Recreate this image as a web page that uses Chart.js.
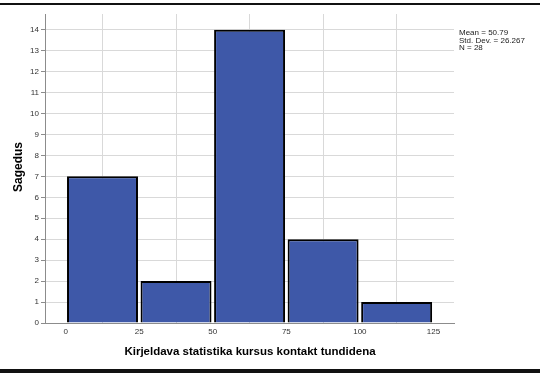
<!DOCTYPE html>
<html>
<head>
<meta charset="utf-8">
<script src="https://cdn.jsdelivr.net/npm/chart.js@4/dist/chart.umd.min.js"></script>
<style>
  html, body { margin: 0; padding: 0; background: #fff; }
  #wrap { position: relative; width: 540px; height: 373px; }
</style>
</head>
<body>
<div id="wrap"><canvas id="hist" width="540" height="373"></canvas></div>
<script>
(function () {
    'use strict';
    // histogram bins (midpoints) and counts
    var binCenters = [12.5, 37.5, 62.5, 87.5, 112.5];
    var counts = [7, 2, 14, 4, 1];
    var xTicks = [0, 25, 50, 75, 100, 125];
    var yTicks = [0, 1, 2, 3, 4, 5, 6, 7, 8, 9, 10, 11, 12, 13, 14];
    var statLines = ['Mean = 50.79', 'Std. Dev. = 26.267', 'N = 28'];
    var xTitle = 'Kirjeldava statistika kursus kontakt tundidena';
    var yTitle = 'Sagedus';

    var barBlue = '#3e58a8';
    var gridGray = '#d9d9d9';
    var axisGray = '#8c8c8c';

    var decor = {
        id: 'decor',
        afterDraw: function (chart) {
            var ctx = chart.ctx;
            var area = chart.chartArea;
            ctx.save();
            // frame lines top and bottom
            ctx.fillStyle = '#111';
            ctx.fillRect(0, 3, 540, 2);
            ctx.fillRect(0, 369, 540, 4);
            // stats box
            ctx.fillStyle = '#222';
            ctx.font = '8px "Liberation Sans", Arial, sans-serif';
            ctx.textAlign = 'left';
            ctx.textBaseline = 'middle';
            statLines.forEach(function (s, i) {
                ctx.fillText(s, area.right + 5, 33 + i * 7.3);
            });
            // axis titles
            ctx.fillStyle = '#000';
            ctx.font = 'bold 11.5px "Liberation Sans", Arial, sans-serif';
            ctx.textAlign = 'center';
            ctx.fillText(xTitle, 250, 352);
            ctx.font = 'bold 12px "Liberation Sans", Arial, sans-serif';
            ctx.translate(19, 167);
            ctx.rotate(-Math.PI / 2);
            ctx.fillText(yTitle, 0, 0);
            ctx.restore();
        }
    };

    new Chart(document.getElementById('hist'), {
        type: 'bar',
        data: {
            datasets: [
                {
                    data: binCenters.map(function (c, i) { return { x: c, y: counts[i] }; }),
                    backgroundColor: barBlue,
                    borderColor: '#000',
                    borderWidth: 2,
                    barPercentage: 1,
                    categoryPercentage: 0.965
                }
            ]
        },
        options: {
            responsive: false,
            animation: false,
            layout: { padding: { top: 14, right: 86, left: 0, bottom: 0 } },
            plugins: { legend: { display: false }, tooltip: { enabled: false } },
            scales: {
                x: {
                    type: 'linear',
                    min: -7.05,
                    max: 132,
                    offset: false,
                    afterFit: function (s) { s.height = 50; },
                    afterBuildTicks: function (s) {
                        s.ticks = xTicks.map(function (v) { return { value: v }; });
                    },
                    ticks: {
                        color: '#333',
                        font: { size: 8, family: '"Liberation Sans", Arial, sans-serif' },
                        padding: 1,
                        maxRotation: 0,
                        autoSkip: false
                    },
                    grid: { color: gridGray, drawTicks: true, tickLength: 3, tickColor: 'rgba(0,0,0,0)' },
                    border: { color: axisGray, width: 1 }
                },
                y: {
                    min: 0,
                    max: 14.75,
                    afterFit: function (s) { s.width = 45; },
                    afterBuildTicks: function (s) {
                        s.ticks = yTicks.map(function (v) { return { value: v }; });
                    },
                    ticks: {
                        color: '#333',
                        font: { size: 8, family: '"Liberation Sans", Arial, sans-serif' },
                        padding: 2,
                        autoSkip: false
                    },
                    grid: { color: gridGray, tickLength: 4, tickColor: axisGray },
                    border: { color: axisGray, width: 1 }
                }
            }
        },
        plugins: [decor]
    });
})();
</script>
</body>
</html>
